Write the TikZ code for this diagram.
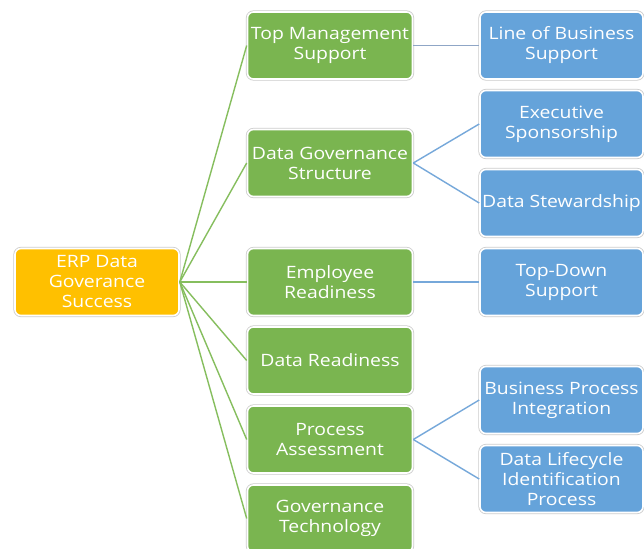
\documentclass[tikz,border=0pt]{standalone}
\usepackage{fontspec}
\setmainfont{Open Sans}[FakeStretch=1.14]
\begin{document}
\begin{tikzpicture}[x=1pt,y=-1pt,
  box/.style={rounded corners=6pt, minimum height=67pt, align=center,
    text=white, font=\fontsize{17}{20}\selectfont, inner sep=0pt,
    draw=white, line width=1.6pt,
    preaction={draw=black!20, line width=3.2pt}},
  rootbox/.style={box, fill=rootfill, minimum width=164pt},
  midbox/.style={box, fill=midfill, minimum width=165pt},
  leafbox/.style={box, fill=leaffill, minimum width=163pt},
  gline/.style={draw=glinec, line width=1.4pt},
  bline/.style={draw=blinec, line width=1.4pt},
  sline/.style={draw=slinec, line width=1.6pt}]
\definecolor{rootfill}{HTML}{FFC000}
\definecolor{midfill}{HTML}{7AB550}
\definecolor{leaffill}{HTML}{65A3DA}
\definecolor{glinec}{HTML}{86BE5E}
\definecolor{blinec}{HTML}{76A8DA}
\definecolor{slinec}{HTML}{8FA6C6}
\useasboundingbox[fill=white] (0,0) rectangle (644,548);

% root
\node[rootbox] (root) at (97,282) {ERP Data\\Goverance\\Success};

% second level
\node[midbox] (tms) at (330,45.5) {Top Management\\Support};
\node[midbox] (dgs) at (330,163) {Data Governance\\Structure};
\node[midbox] (er)  at (330,282) {Employee\\Readiness};
\node[midbox] (dr)  at (330,360.5) {Data Readiness};
\node[midbox] (pa)  at (330,439.5) {Process\\Assessment};
\node[midbox] (gt)  at (330,518.5) {Governance\\Technology};

% third level
\node[leafbox] (lob) at (561.5,45.5) {Line of Business\\Support};
\node[leafbox] (es)  at (561.5,124) {Executive\\Sponsorship};
\node[leafbox] (ds)  at (561.5,203) {Data Stewardship};
\node[leafbox] (tds) at (561.5,282) {Top-Down\\Support};
\node[leafbox] (bpi) at (561.5,400) {Business Process\\Integration};
\node[leafbox] (dli) at (561.5,479) {Data Lifecycle\\Identification\\Process};

% connectors
\foreach \n in {tms,dgs,er,dr,pa,gt}
  \path[gline] (root.east) -- (\n.west);
\path[sline] (tms.east) -- (lob.west);
\foreach \n in {es,ds}
  \path[bline] (dgs.east) -- (\n.west);
\path[bline] (er.east) -- (tds.west);
\foreach \n in {bpi,dli}
  \path[bline] (pa.east) -- (\n.west);
\end{tikzpicture}
\end{document}
